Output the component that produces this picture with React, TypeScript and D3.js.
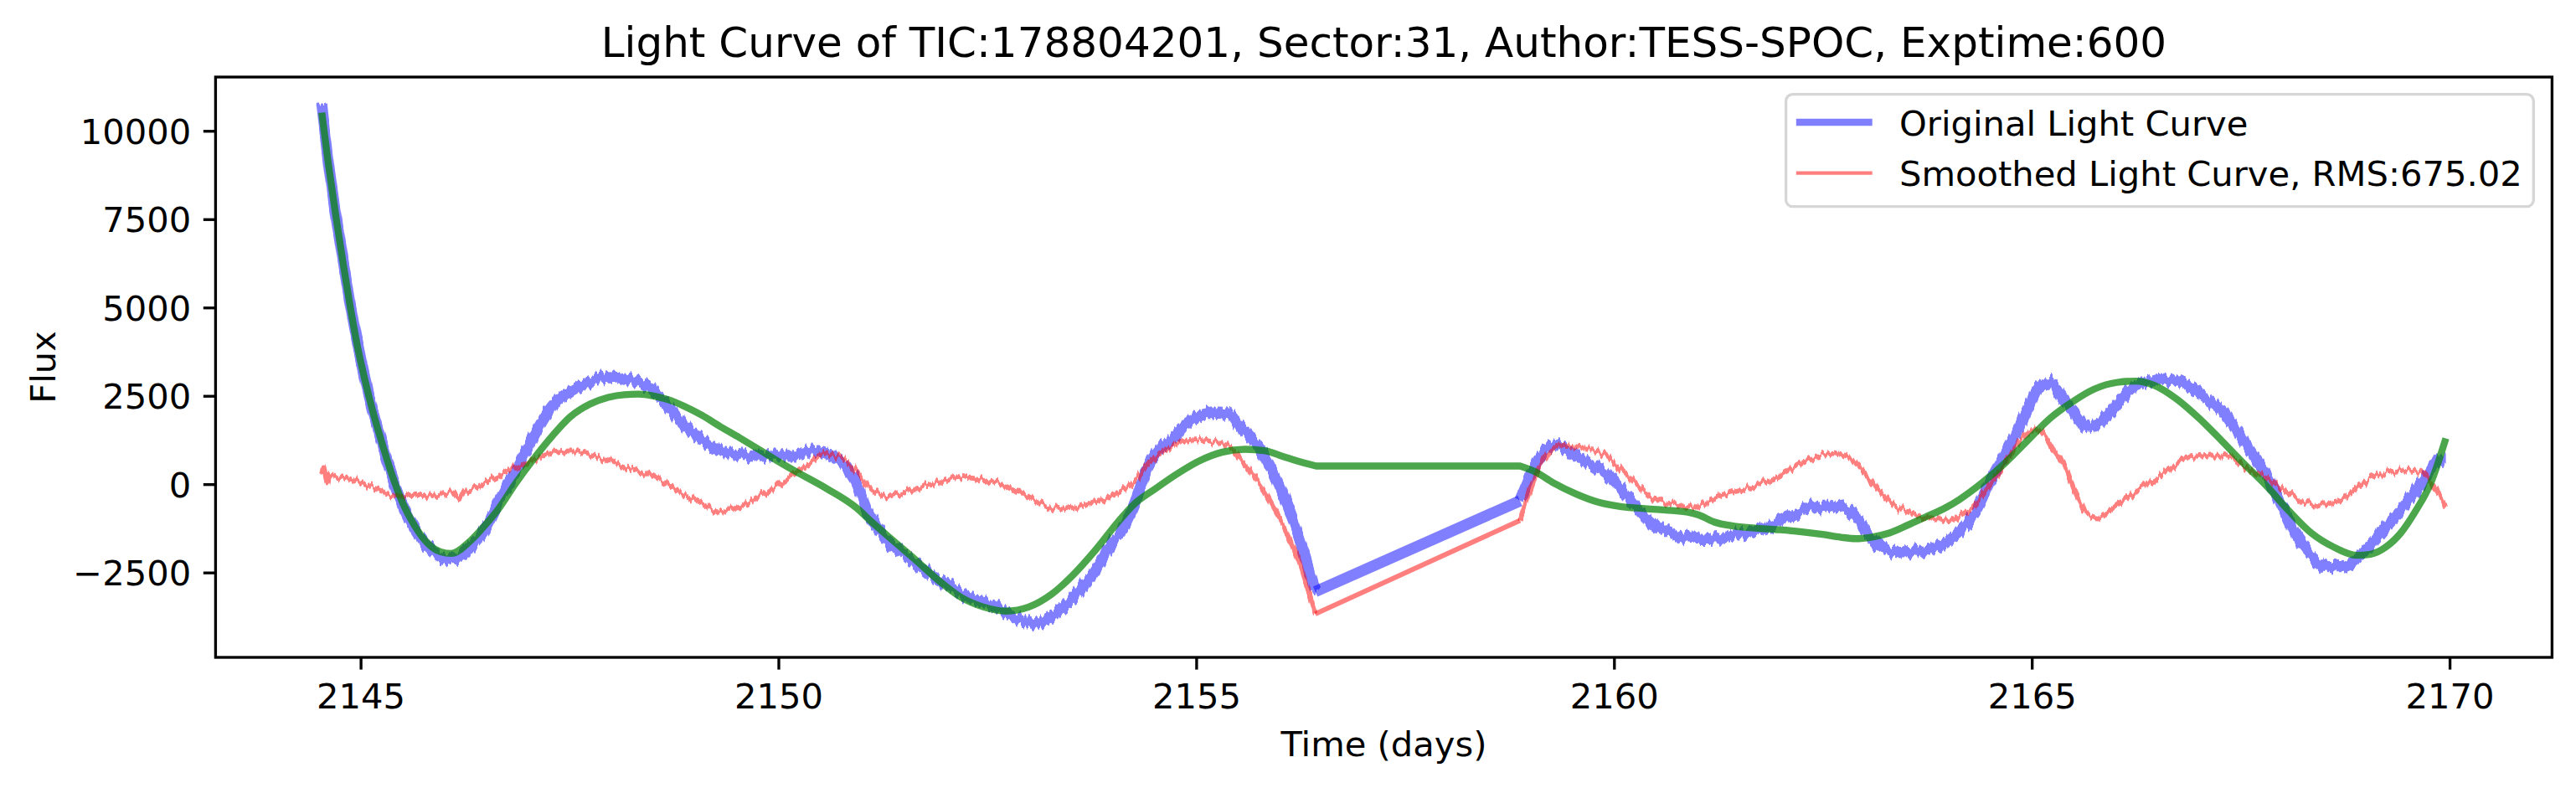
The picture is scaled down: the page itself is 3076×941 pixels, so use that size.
import React from 'react';
import * as d3 from 'd3';

// ---------- data ----------
const titleText = 'Light Curve of TIC:178804201, Sector:31, Author:TESS-SPOC, Exptime:600';
const xLabel = 'Time (days)';
const yLabel = 'Flux';
const legendLabels = ['Original Light Curve', 'Smoothed Light Curve, RMS:675.02'];

const xTicks = [2145, 2150, 2155, 2160, 2165, 2170];
const yTicks = [-2500, 0, 2500, 5000, 7500, 10000];
const yDomain = [-4890, 11535];

// Original light curve (blue): [time, flux]
const originalCurve: [number, number][] = [
  [2144.53, 10750], [2144.61, 9100], [2144.70, 7600], [2144.79, 6250], [2144.87, 5100],
  [2144.96, 3950], [2145.05, 2950], [2145.14, 2100], [2145.23, 1350], [2145.37, 250],
  [2145.50, -600], [2145.64, -1250], [2145.77, -1700], [2145.90, -1990], [2146.02, -2110],
  [2146.15, -2100], [2146.31, -1760], [2146.48, -1270], [2146.66, -420], [2146.84, 320],
  [2147.07, 1380], [2147.29, 2225], [2147.51, 2650], [2147.74, 2915], [2147.96, 3050],
  [2148.18, 2990], [2148.41, 2810], [2148.63, 2330], [2148.86, 1700], [2149.08, 1270],
  [2149.30, 955], [2149.53, 850], [2149.75, 795], [2149.97, 850], [2150.20, 850],
  [2150.35, 920], [2150.48, 960], [2150.66, 760], [2150.80, 525], [2150.93, 50],
  [2151.06, -740], [2151.20, -1290], [2151.33, -1690], [2151.47, -1925], [2151.56, -2080],
  [2151.74, -2400], [2151.91, -2710], [2152.09, -2950], [2152.27, -3190], [2152.45, -3345],
  [2152.63, -3500], [2152.81, -3740], [2152.99, -3900], [2153.08, -3940], [2153.26, -3740],
  [2153.43, -3420], [2153.61, -2950], [2153.79, -2400], [2153.97, -1690], [2154.15, -1135],
  [2154.28, -420], [2154.42, 525], [2154.55, 1000], [2154.69, 1235], [2154.87, 1710],
  [2155.04, 1950], [2155.22, 2030], [2155.40, 1990], [2155.49, 1710], [2155.63, 1395],
  [2155.76, 1000], [2155.89, 445], [2156.03, -265], [2156.16, -1055], [2156.30, -2080],
  [2156.42, -3030],
  [2158.87, -460], [2158.93, -110], [2159.00, 290], [2159.09, 680], [2159.18, 1000],
  [2159.31, 1115], [2159.45, 955], [2159.63, 680], [2159.81, 445], [2159.98, 130],
  [2160.16, -345], [2160.34, -820], [2160.52, -1210], [2160.70, -1370], [2160.92, -1530],
  [2161.15, -1530], [2161.37, -1450], [2161.60, -1370], [2161.82, -1210], [2162.00, -975],
  [2162.18, -820], [2162.36, -660], [2162.53, -580], [2162.71, -660], [2162.85, -820],
  [2162.98, -1210], [2163.11, -1610], [2163.29, -1890], [2163.47, -1925], [2163.65, -1890],
  [2163.83, -1770], [2164.01, -1530], [2164.13, -1300], [2164.31, -820], [2164.49, 50],
  [2164.67, 840], [2164.81, 1470], [2164.94, 2100], [2165.07, 2735], [2165.21, 2890],
  [2165.34, 2500], [2165.48, 2100], [2165.66, 1630], [2165.83, 1790], [2166.01, 2260],
  [2166.19, 2735], [2166.37, 2890], [2166.55, 2970], [2166.72, 2970], [2166.91, 2735],
  [2167.09, 2420], [2167.27, 2100], [2167.44, 1550], [2167.62, 920], [2167.80, 290],
  [2167.98, -580], [2168.16, -1450], [2168.34, -2000], [2168.52, -2320], [2168.70, -2320],
  [2168.88, -2080], [2169.06, -1690], [2169.23, -1210], [2169.41, -740], [2169.59, -185],
  [2169.73, 290], [2169.86, 680], [2169.95, 680],
];

// Smoothed (residual) light curve (red): [time, flux]
const smoothedCurve: [number, number][] = [
  [2144.53, 300], [2144.55, 480], [2144.58, 180], [2144.60, 20], [2144.62, 250],
  [2144.83, 165], [2145.05, 0], [2145.28, -210], [2145.50, -315], [2145.72, -315],
  [2145.95, -260], [2146.10, -230], [2146.17, -420], [2146.22, -230], [2146.40, -50],
  [2146.62, 215], [2146.84, 480], [2147.07, 690], [2147.29, 900], [2147.51, 955],
  [2147.74, 850], [2147.96, 690], [2148.18, 480], [2148.41, 320], [2148.63, 55],
  [2148.86, -260], [2149.08, -530], [2149.30, -740], [2149.53, -635], [2149.75, -370],
  [2149.97, -50], [2150.20, 340], [2150.39, 640], [2150.53, 880], [2150.66, 840],
  [2150.80, 680], [2150.93, 365], [2151.06, -30], [2151.20, -265], [2151.33, -345],
  [2151.47, -265], [2151.65, -110], [2151.82, 10], [2152.00, 130], [2152.18, 210],
  [2152.36, 170], [2152.54, 90], [2152.72, -30], [2152.90, -265], [2153.08, -500],
  [2153.26, -660], [2153.43, -700], [2153.61, -620], [2153.79, -500], [2153.97, -345],
  [2154.15, -110], [2154.28, 130], [2154.42, 600], [2154.55, 880], [2154.69, 1075],
  [2154.87, 1235], [2155.04, 1275], [2155.22, 1195], [2155.40, 1075], [2155.54, 680],
  [2155.67, 290], [2155.81, -185], [2155.94, -740], [2156.07, -1290], [2156.21, -2080],
  [2156.34, -3030], [2156.42, -3660],
  [2158.87, -1015], [2159.00, -110], [2159.09, 445], [2159.22, 920], [2159.36, 1115],
  [2159.54, 1075], [2159.71, 1000], [2159.89, 840], [2160.07, 445], [2160.25, 50],
  [2160.43, -345], [2160.61, -540], [2160.79, -580], [2160.92, -660], [2161.06, -540],
  [2161.24, -345], [2161.41, -225], [2161.59, -110], [2161.77, 50], [2161.95, 210],
  [2162.13, 445], [2162.31, 680], [2162.49, 840], [2162.63, 880], [2162.76, 800],
  [2162.89, 600], [2163.03, 210], [2163.17, -185], [2163.34, -580], [2163.52, -780],
  [2163.70, -900], [2163.87, -975], [2164.01, -1055], [2164.13, -860], [2164.31, -580],
  [2164.49, -30], [2164.67, 600], [2164.85, 1235], [2165.03, 1550], [2165.12, 1470],
  [2165.25, 1000], [2165.39, 525], [2165.52, -265], [2165.66, -820], [2165.79, -900],
  [2165.92, -740], [2166.10, -420], [2166.28, -110], [2166.46, 130], [2166.64, 445],
  [2166.82, 720], [2167.00, 800], [2167.18, 840], [2167.36, 800], [2167.53, 525],
  [2167.71, 290], [2167.89, 50], [2168.07, -265], [2168.25, -500], [2168.43, -580],
  [2168.61, -500], [2168.79, -265], [2168.96, 50], [2169.14, 290], [2169.32, 365],
  [2169.50, 405], [2169.64, 365], [2169.77, 50], [2169.86, -265], [2169.95, -620],
];

// Trend fit (green): [time, flux]
const trendCurve: [number, number][] = [
  [2144.53, 10530], [2144.61, 9065], [2144.70, 7580], [2144.79, 6200], [2144.87, 5040],
  [2144.96, 3880], [2145.05, 2925], [2145.14, 2080], [2145.23, 1340], [2145.37, 280],
  [2145.50, -530], [2145.64, -1160], [2145.77, -1590], [2145.95, -1900], [2146.08, -1950],
  [2146.31, -1590], [2146.48, -1160], [2146.66, -640], [2146.84, 0], [2147.07, 740],
  [2147.29, 1380], [2147.51, 1930], [2147.74, 2280], [2147.96, 2470], [2148.15, 2545],
  [2148.32, 2560], [2148.50, 2510], [2148.68, 2400], [2148.86, 2225], [2149.08, 1960],
  [2149.30, 1640], [2149.53, 1325], [2149.75, 1010], [2149.97, 690], [2150.20, 375],
  [2150.57, -110], [2150.93, -660], [2151.11, -1055], [2151.38, -1610], [2151.65, -2160],
  [2151.91, -2710], [2152.18, -3190], [2152.45, -3465], [2152.72, -3580], [2152.99, -3465],
  [2153.26, -3110], [2153.52, -2560], [2153.79, -1850], [2154.06, -1055], [2154.24, -580],
  [2154.51, -110], [2154.78, 325], [2155.04, 680], [2155.31, 920], [2155.58, 1000],
  [2155.81, 960], [2156.03, 800], [2156.25, 640], [2156.43, 525],
  [2158.87, 525], [2159.05, 365], [2159.27, 50], [2159.54, -265], [2159.81, -500],
  [2160.07, -620], [2160.34, -675], [2160.61, -720], [2160.88, -780], [2161.01, -860],
  [2161.19, -1055], [2161.42, -1170], [2161.68, -1230], [2161.95, -1275], [2162.22, -1330],
  [2162.49, -1410], [2162.71, -1490], [2162.89, -1530], [2163.07, -1490], [2163.29, -1370],
  [2163.52, -1135], [2163.74, -900], [2163.96, -660], [2164.13, -420], [2164.40, 50],
  [2164.67, 600], [2164.94, 1235], [2165.21, 1870], [2165.48, 2340], [2165.74, 2700],
  [2166.01, 2890], [2166.24, 2930], [2166.46, 2810], [2166.73, 2420], [2167.00, 1870],
  [2167.27, 1235], [2167.53, 600], [2167.80, -30], [2168.07, -740], [2168.34, -1370],
  [2168.61, -1770], [2168.88, -2000], [2169.05, -1970], [2169.23, -1770], [2169.41, -1370],
  [2169.59, -740], [2169.77, 50], [2169.95, 1310],
];

// ---------- layout ----------
const W = 3076;
const H = 941;
const M = { left: 257.4, right: 3047.4, top: 92, bottom: 785 };
const FONT = '"DejaVu Sans", Verdana, sans-serif';
const FS = 41.67; // 10pt @ 300dpi
const PT = 300 / 72;

const BLUE = 'rgba(0,0,255,0.5)';
const RED = 'rgba(255,0,0,0.5)';
const GREEN = 'rgba(0,128,0,0.7)';

function fmt(v: number) {
  return v < 0 ? '\u2212' + Math.abs(v) : String(v);
}

type Pt = [number, number];

function splitRuns(pts: Pt[]) {
  const runs: Pt[][] = [];
  let cur: Pt[] = [pts[0]];
  for (let i = 1; i < pts.length; i++) {
    if (pts[i][0] - pts[i - 1][0] > 1) {
      runs.push(cur);
      cur = [];
    }
    cur.push(pts[i]);
  }
  runs.push(cur);
  return runs;
}

function makeGen(x: any, y: any) {
  return d3
    .line<Pt>()
    .x((d) => x(d[0]))
    .y((d) => y(d[1]))
    .curve(d3.curveMonotoneX);
}

// separate sub-paths for the observed runs, plus the straight gap connectors
function runsPath(pts: Pt[], x: any, y: any) {
  const gen = makeGen(x, y);
  return splitRuns(pts).map((r) => gen(r) || '').join('');
}
function gapLines(pts: Pt[]) {
  const runs = splitRuns(pts);
  const out: [Pt, Pt][] = [];
  for (let i = 1; i < runs.length; i++) out.push([runs[i - 1][runs[i - 1].length - 1], runs[i][0]]);
  return out;
}
function continuousPath(pts: Pt[], x: any, y: any) {
  const gen = makeGen(x, y);
  return splitRuns(pts)
    .map((r, i) => {
      const s = gen(r) || '';
      return i === 0 ? s : 'L' + s.slice(1);
    })
    .join('');
}

export default function App() {
  const allT = [...originalCurve, ...smoothedCurve, ...trendCurve].map((d) => d[0]);
  const [tMin, tMax] = d3.extent(allT) as [number, number];
  const pad = (tMax - tMin) * 0.05;
  const x = d3.scaleLinear().domain([tMin - pad, tMax + pad]).range([M.left, M.right]);
  const y = d3.scaleLinear().domain(yDomain).range([M.bottom, M.top]);

  const blueRuns = runsPath(originalCurve, x, y);
  const blueGaps = gapLines(originalCurve);
  const redRuns = runsPath(smoothedCurve, x, y);
  const redGaps = gapLines(smoothedCurve);
  const greenPath = continuousPath(trendCurve, x, y);

  const tickLen = 3.5 * PT;
  const spineW = 0.8 * PT;
  const cx = (M.left + M.right) / 2;
  const cy = (M.top + M.bottom) / 2;

  const blueW = 3.2 * PT;
  const redW = 1.4 * PT;

  const leg = { x0: 2132.6, y0: 112.7, x1: 3025.3, y1: 246.7 };
  const rows = [146, 206.7];

  return (
    <svg
      width={W}
      height={H}
      viewBox={`0 0 ${W} ${H}`}
      style={{ position: 'absolute', left: 0, top: 0, display: 'block', background: '#fff' }}
      fontFamily={FONT}
    >
      <defs>
        <clipPath id="plotClip">
          <rect x={M.left} y={M.top} width={M.right - M.left} height={M.bottom - M.top} />
        </clipPath>
        <filter id="jitterBlue" filterUnits="userSpaceOnUse" x={0} y={0} width={W} height={H}
          colorInterpolationFilters="sRGB">
          <feTurbulence type="fractalNoise" baseFrequency="0.25 0.004" numOctaves={2} seed={4} result="noise" />
          <feColorMatrix in="noise" type="matrix"
            values="0 0 0 0 0.5  0 1 0 0 0  0 0 0 0 0  0 0 0 0 1" result="map" />
          <feDisplacementMap in="SourceGraphic" in2="map" scale={15} xChannelSelector="R" yChannelSelector="G" />
        </filter>
        <filter id="jitterRed" filterUnits="userSpaceOnUse" x={0} y={0} width={W} height={H}
          colorInterpolationFilters="sRGB">
          <feTurbulence type="fractalNoise" baseFrequency="0.28 0.004" numOctaves={2} seed={11} result="noise" />
          <feColorMatrix in="noise" type="matrix"
            values="0 0 0 0 0.5  0 1 0 0 0  0 0 0 0 0  0 0 0 0 1" result="map" />
          <feDisplacementMap in="SourceGraphic" in2="map" scale={14} xChannelSelector="R" yChannelSelector="G" />
        </filter>
      </defs>

      <rect x={0} y={0} width={W} height={H} fill="#fff" />

      {/* title */}
      <text x={cx} y={68} textAnchor="middle" fontSize={50} fill="#000">{titleText}</text>

      {/* data */}
      <g clipPath="url(#plotClip)">
        <g filter="url(#jitterBlue)">
          <path d={blueRuns} fill="none" stroke={BLUE} strokeWidth={blueW}
            strokeLinejoin="round" strokeLinecap="butt" />
        </g>
        {blueGaps.map(([a, b], i) => (
          <line key={'bg' + i} x1={x(a[0])} y1={y(a[1])} x2={x(b[0])} y2={y(b[1])}
            stroke={BLUE} strokeWidth={blueW} strokeLinecap="butt" />
        ))}
        <g filter="url(#jitterRed)">
          <path d={redRuns} fill="none" stroke={RED} strokeWidth={redW}
            strokeLinejoin="round" strokeLinecap="butt" />
        </g>
        {redGaps.map(([a, b], i) => (
          <line key={'rg' + i} x1={x(a[0])} y1={y(a[1])} x2={x(b[0])} y2={y(b[1])}
            stroke={RED} strokeWidth={redW} strokeLinecap="butt" />
        ))}
        <path d={greenPath} fill="none" stroke={GREEN} strokeWidth={2 * PT}
          strokeLinejoin="round" strokeLinecap="butt" />
      </g>

      {/* x ticks */}
      {xTicks.map((t) => (
        <g key={'xt' + t}>
          <line x1={x(t)} x2={x(t)} y1={M.bottom} y2={M.bottom + tickLen} stroke="#000" strokeWidth={spineW} />
          <text x={x(t)} y={846} textAnchor="middle" fontSize={FS} fill="#000">{fmt(t)}</text>
        </g>
      ))}
      {/* y ticks */}
      {yTicks.map((v) => (
        <g key={'yt' + v}>
          <line x1={M.left - tickLen} x2={M.left} y1={y(v)} y2={y(v)} stroke="#000" strokeWidth={spineW} />
          <text x={M.left - tickLen - 3.5 * PT} y={y(v) + 15.2} textAnchor="end" fontSize={FS} fill="#000">{fmt(v)}</text>
        </g>
      ))}

      {/* spines */}
      <rect x={M.left} y={M.top} width={M.right - M.left} height={M.bottom - M.top}
        fill="none" stroke="#000" strokeWidth={spineW} strokeLinejoin="miter" />

      {/* axis labels */}
      <text x={cx} y={903} textAnchor="middle" fontSize={FS} fill="#000">{xLabel}</text>
      <text transform={`translate(66,${cy}) rotate(-90)`} textAnchor="middle" fontSize={FS} fill="#000">{yLabel}</text>

      {/* legend */}
      <rect x={leg.x0} y={leg.y0} width={leg.x1 - leg.x0} height={leg.y1 - leg.y0} rx={8} ry={8}
        fill="rgba(255,255,255,0.8)" stroke="#d6d6d6" strokeWidth={spineW} />
      <line x1={2144.8} x2={2235.7} y1={rows[0]} y2={rows[0]} stroke={BLUE} strokeWidth={2 * PT} />
      <text x={2268} y={161.7} fontSize={FS} fill="#000">{legendLabels[0]}</text>
      <line x1={2144.8} x2={2235.7} y1={rows[1]} y2={rows[1]} stroke={RED} strokeWidth={1 * PT} />
      <text x={2268} y={221.7} fontSize={FS} fill="#000">{legendLabels[1]}</text>
    </svg>
  );
}
